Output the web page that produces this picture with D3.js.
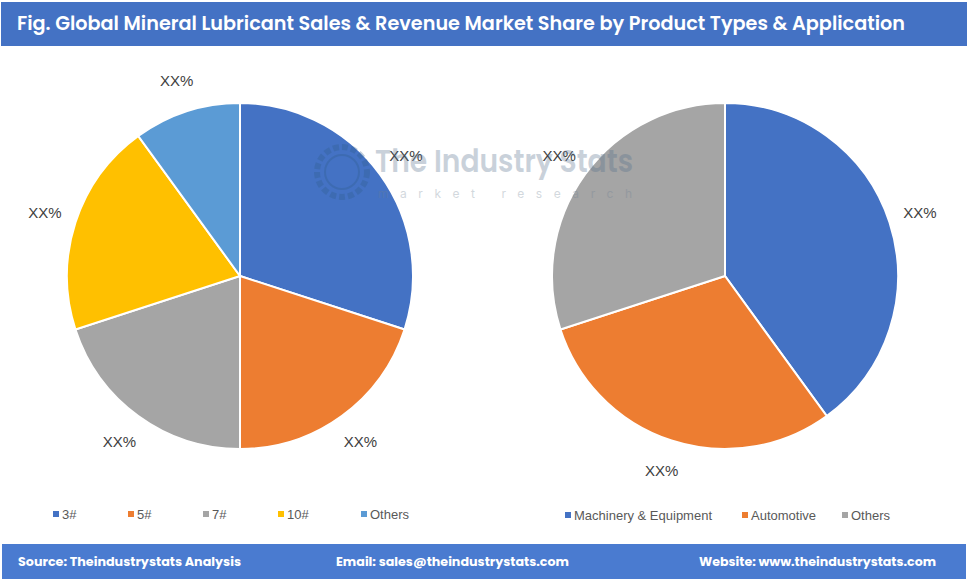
<!DOCTYPE html>
<html>
<head>
<meta charset="utf-8">
<script src="https://cdn.jsdelivr.net/npm/d3@7"></script>
<style>
  body { margin: 0; background: #fff; }
  svg { display: block; }
</style>
</head>
<body>
<div id="chart"></div>
<script>
// data
var typeNames = ["3#", "5#", "7#", "10#", "Others"];
var typeValues = [30, 20, 20, 20, 10];
var typeLabels = ["XX%", "XX%", "XX%", "XX%", "XX%"];
var typeColors = ["#4472c4", "#ed7d31", "#a5a5a5", "#ffc000", "#5b9bd5"];

var appNames = ["Machinery & Equipment", "Automotive", "Others"];
var appValues = [40, 30, 30];
var appLabels = ["XX%", "XX%", "XX%"];
var appColors = ["#4472c4", "#ed7d31", "#a5a5a5"];

var width = 968, height = 585;

var svg = d3.select("#chart").append("svg")
    .attr("width", width)
    .attr("height", height);

// title bar
svg.append("rect")
    .attr("x", 1).attr("y", 2)
    .attr("width", width - 2).attr("height", 44)
    .attr("fill", "#4472c4");
svg.append("text")
    .attr("x", 17).attr("y", 30)
    .attr("fill", "#fff")
    .attr("font-family", "Poppins, Inter, 'Open Sans', sans-serif")
    .attr("font-weight", "600")
    .attr("font-size", 19)
    .attr("textLength", 888)
    .attr("lengthAdjust", "spacingAndGlyphs")
    .text("Fig. Global Mineral Lubricant Sales & Revenue Market Share by Product Types & Application");

function drawPie(cx, cy, r, values, labels, colors) {
    var pie = d3.pie().sort(null).value(function(d) { return d; });
    var arc = d3.arc().innerRadius(0).outerRadius(r);
    var labelArc = d3.arc().innerRadius(r * 1.185).outerRadius(r * 1.185);
    var g = svg.append("g").attr("transform", "translate(" + cx + "," + cy + ")");
    var arcs = pie(values);
    g.selectAll("path")
        .data(arcs)
        .enter().append("path")
        .attr("d", arc)
        .attr("fill", function(d, i) { return colors[i]; })
        .attr("stroke", "#fff")
        .attr("stroke-width", 2);
    g.selectAll("text")
        .data(arcs)
        .enter().append("text")
        .attr("transform", function(d) { return "translate(" + labelArc.centroid(d) + ")"; })
        .attr("text-anchor", "middle")
        .attr("dy", "0.35em")
        .attr("fill", "#404040")
        .attr("font-family", "'Liberation Sans', Arial, sans-serif")
        .attr("font-size", 15)
        .text(function(d, i) { return labels[i]; });
}

drawPie(240, 276, 173, typeValues, typeLabels, typeColors);
drawPie(725, 276, 173, appValues, appLabels, appColors);

// watermark over the pies
var wm = svg.append("g").attr("opacity", 0.3);
wm.append("circle").attr("cx", 342).attr("cy", 172).attr("r", 25)
    .attr("fill", "none").attr("stroke", "#2f5d8c").attr("stroke-width", 6)
    .attr("stroke-dasharray", "6 3");
wm.append("circle").attr("cx", 342).attr("cy", 172).attr("r", 17)
    .attr("fill", "none").attr("stroke", "#2f5d8c").attr("stroke-width", 2);
wm.append("text")
    .attr("x", 375).attr("y", 172)
    .attr("fill", "#4f6b88")
    .attr("font-family", "Poppins, Inter, sans-serif")
    .attr("font-weight", "600")
    .attr("font-size", 31)
    .attr("textLength", 258)
    .attr("lengthAdjust", "spacingAndGlyphs")
    .text("The Industry Stats");
wm.append("text")
    .attr("x", 378).attr("y", 198)
    .attr("fill", "#6d7f92")
    .attr("font-family", "Inter, sans-serif")
    .attr("font-size", 12)
    .attr("textLength", 254)
    .attr("lengthAdjust", "spacing")
    .text("market research");

// legends
function drawLegend(xs, y, names, colors) {
    var lg = svg.append("g");
    var items = lg.selectAll("g")
        .data(names)
        .enter().append("g")
        .attr("transform", function(d, i) { return "translate(" + xs[i] + "," + y + ")"; });
    items.append("rect")
        .attr("x", 0).attr("y", -3)
        .attr("width", 6).attr("height", 6)
        .attr("fill", function(d, i) { return colors[i]; });
    items.append("text")
        .attr("x", 9).attr("y", 0)
        .attr("dy", "0.35em")
        .attr("fill", "#595959")
        .attr("font-family", "'Liberation Sans', Arial, sans-serif")
        .attr("font-size", 13)
        .text(function(d) { return d; });
}
drawLegend([53, 128, 203, 278, 361], 514, typeNames, typeColors);
drawLegend([565, 742, 842], 515, appNames, appColors);

// footer
svg.append("rect")
    .attr("x", 2).attr("y", 544)
    .attr("width", width - 4).attr("height", 35)
    .attr("fill", "#4a7bd0");
var foot = [
    {x: 18, w: 223, t: "Source: Theindustrystats Analysis"},
    {x: 336, w: 233, t: "Email: sales@theindustrystats.com"},
    {x: 699, w: 237, t: "Website: www.theindustrystats.com"}
];
svg.selectAll(".foot")
    .data(foot)
    .enter().append("text")
    .attr("class", "foot")
    .attr("x", function(d) { return d.x; })
    .attr("y", 566)
    .attr("fill", "#fff")
    .attr("font-family", "Poppins, Inter, sans-serif")
    .attr("font-weight", "700")
    .attr("font-size", 12.5)
    .attr("textLength", function(d) { return d.w; })
    .attr("lengthAdjust", "spacingAndGlyphs")
    .text(function(d) { return d.t; });
</script>
</body>
</html>
